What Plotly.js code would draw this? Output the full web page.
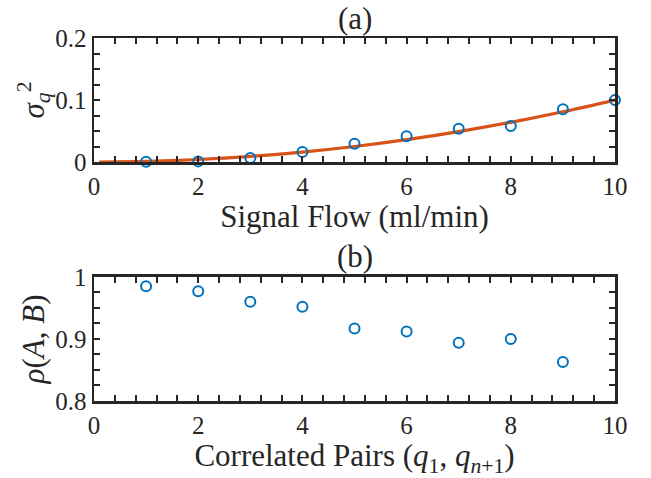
<!DOCTYPE html>
<html>
<head>
<meta charset="utf-8">
<script src="https://cdn.plot.ly/plotly-3.0.1.min.js"></script>
<style>html,body{margin:0;padding:0;background:#fff;}#chart{width:651px;height:478px;}</style>
</head>
<body>
<div id="chart"></div>
<script>
// Panel (a): variance vs signal flow
const flowX = [1, 2, 3, 4, 5, 6, 7, 8, 9, 10];
const varianceY = [0.0005, 0.001, 0.0065, 0.016, 0.0295, 0.0415, 0.0535, 0.058, 0.085, 0.100];
const fitX = [0.1, 1, 2, 3, 4, 5, 6, 7, 8, 9, 10];
const fitY = [0.0, 0.001, 0.004, 0.009, 0.016, 0.025, 0.036, 0.049, 0.064, 0.081, 0.100];
// Panel (b): correlation vs pair index
const pairX = [1, 2, 3, 4, 5, 6, 7, 8, 9];
const corrY = [0.985, 0.977, 0.960, 0.952, 0.917, 0.912, 0.894, 0.900, 0.863];

const xTickVals = [0, 2, 4, 6, 8, 10];
const yTickValsA = [0, 0.1, 0.2];
const yTickTextA = ['0', '0.1', '0.2'];
const yTickValsB = [0.8, 0.9, 1];
const yTickTextB = ['0.8', '0.9', '1'];

const BLUE = '#0072BD', ORANGE = '#D95319', AX = '#262626';
const FONT = 'Liberation Serif';
const LABEL_SIZE = 31;

const markerStyle = {symbol: 'circle-open', size: 10, color: BLUE, line: {width: 2, color: BLUE}};

const traces = [
  {x: fitX, y: fitY, type: 'scatter', mode: 'lines', line: {color: ORANGE, width: 3.2, shape: 'spline'},
   xaxis: 'x', yaxis: 'y', hoverinfo: 'skip', showlegend: false, cliponaxis: false},
  {x: flowX, y: varianceY, type: 'scatter', mode: 'markers', marker: markerStyle,
   xaxis: 'x', yaxis: 'y', showlegend: false, cliponaxis: false},
  {x: pairX, y: corrY, type: 'scatter', mode: 'markers', marker: markerStyle,
   xaxis: 'x2', yaxis: 'y2', showlegend: false, cliponaxis: false}
];

function xAxis(anchor, title) {
  return {
    anchor: anchor, domain: [0, 1], range: [0, 10], tickvals: xTickVals,
    ticks: 'inside', ticklen: 6, tickwidth: 2, tickcolor: AX,
    minor: {dtick: 0.4, tick0: 0, ticks: 'inside', ticklen: 6, tickwidth: 2, tickcolor: AX},
    showline: true, linecolor: AX, linewidth: 2.5, mirror: 'ticks',
    showgrid: false, zeroline: false,
    tickfont: {family: FONT, size: 25, color: AX},
    title: {text: title, font: {family: FONT, size: LABEL_SIZE, color: AX}, standoff: 6}
  };
}
function yAxis(anchor, domain, range, tv, tt, title) {
  return {
    anchor: anchor, domain: domain, range: range, tickvals: tv, ticktext: tt,
    ticks: 'inside', ticklen: 6, tickwidth: 2, tickcolor: AX,
    minor: {dtick: 0.025, tick0: 0, ticks: 'inside', ticklen: 6, tickwidth: 2, tickcolor: AX},
    showline: true, linecolor: AX, linewidth: 2.5, mirror: 'ticks',
    showgrid: false, zeroline: false,
    tickfont: {family: FONT, size: 25, color: AX},
    title: {text: title, font: {family: FONT, size: LABEL_SIZE, color: AX}, standoff: 2}
  };
}

const layout = {
  width: 651, height: 478,
  margin: {l: 94, r: 36, t: 38, b: 77},
  paper_bgcolor: '#ffffff', plot_bgcolor: '#ffffff',
  showlegend: false,
  font: {family: FONT, color: AX},
  xaxis: xAxis('y', 'Signal Flow (ml/min)'),
  yaxis: yAxis('x', [0.6584, 1], [0, 0.2], yTickValsA, yTickTextA,
    '<i>σ</i><sub><i>q</i></sub><sup>2</sup>'),
  xaxis2: xAxis('y2', 'Correlated Pairs (<i>q</i><sub>1</sub>, <i>q</i><sub><i>n</i>+1</sub>)'),
  yaxis2: yAxis('x2', [0, 0.3416], [0.8, 1], yTickValsB, yTickTextB,
    '<i>ρ</i>(<i>A</i>, <i>B</i>)'),
  annotations: [
    {text: '(a)', xref: 'paper', yref: 'paper', x: 0.5, y: 1, yshift: 0, xanchor: 'center', yanchor: 'bottom',
     showarrow: false, font: {family: FONT, size: LABEL_SIZE, color: AX}},
    {text: '(b)', xref: 'paper', yref: 'paper', x: 0.5, y: 0.3416, yshift: 1, xanchor: 'center', yanchor: 'bottom',
     showarrow: false, font: {family: FONT, size: LABEL_SIZE, color: AX}}
  ]
};

Plotly.newPlot('chart', traces, layout, {staticPlot: true, displayModeBar: false});
</script>
</body>
</html>
